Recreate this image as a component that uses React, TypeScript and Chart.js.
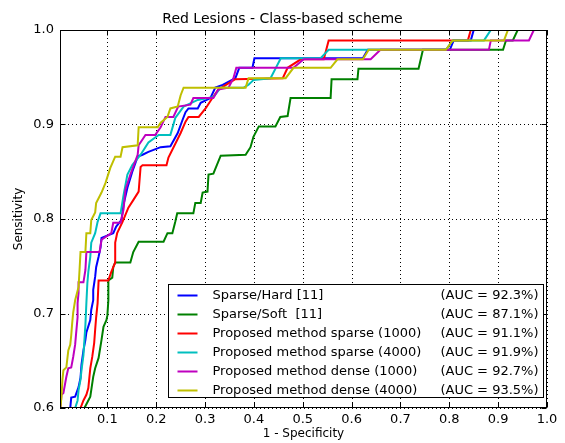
import React, { useEffect, useRef } from "react";
import { Chart, registerables } from "chart.js";

Chart.register(...registerables);

// ---------- data ----------
const seriesNames = [
  "Sparse/Hard [11]",
  "Sparse/Soft  [11]",
  "Proposed method sparse (1000)",
  "Proposed method sparse (4000)",
  "Proposed method dense (1000)",
  "Proposed method dense (4000)",
];
const aucLabels = [
  "(AUC = 92.3%)",
  "(AUC = 87.1%)",
  "(AUC = 91.1%)",
  "(AUC = 91.9%)",
  "(AUC = 92.7%)",
  "(AUC = 93.5%)",
];
const seriesColors = ["#0000ff", "#008000", "#ff0000", "#00bfbf", "#bf00bf", "#bfbf00"];

const xTicks = [0.1, 0.2, 0.3, 0.4, 0.5, 0.6, 0.7, 0.8, 0.9, 1.0];
const yTicks = [0.6, 0.7, 0.8, 0.9, 1.0];

const hardFpr = [0.024, 0.026, 0.034, 0.041, 0.045, 0.047, 0.051, 0.055, 0.057, 0.065, 0.067, 0.071, 0.071, 0.075, 0.077, 0.082, 0.086, 0.088, 0.112, 0.118, 0.129, 0.133, 0.141, 0.151, 0.162, 0.172, 0.184, 0.209, 0.229, 0.244, 0.254, 0.26, 0.266, 0.285, 0.291, 0.311, 0.321, 0.336, 0.362, 0.37, 0.397, 0.401, 0.623, 0.633, 0.801, 0.809, 0.844, 0.85, 1.0];
const hardTpr = [0.6, 0.611, 0.612, 0.622, 0.632, 0.646, 0.661, 0.672, 0.68, 0.693, 0.704, 0.714, 0.725, 0.739, 0.749, 0.76, 0.77, 0.78, 0.785, 0.792, 0.799, 0.815, 0.833, 0.85, 0.866, 0.868, 0.871, 0.876, 0.877, 0.891, 0.905, 0.913, 0.917, 0.917, 0.923, 0.928, 0.939, 0.942, 0.949, 0.96, 0.96, 0.97, 0.97, 0.979, 0.979, 0.989, 0.989, 1.0, 1.0];

const softFpr = [0.053, 0.065, 0.071, 0.075, 0.082, 0.088, 0.092, 0.098, 0.1, 0.102, 0.102, 0.11, 0.112, 0.116, 0.147, 0.153, 0.164, 0.215, 0.223, 0.233, 0.239, 0.243, 0.276, 0.28, 0.291, 0.295, 0.305, 0.307, 0.317, 0.332, 0.383, 0.393, 0.399, 0.41, 0.444, 0.454, 0.469, 0.475, 0.557, 0.559, 0.612, 0.614, 0.737, 0.746, 0.91, 0.916, 0.93, 0.94, 1.0];
const softTpr = [0.6, 0.612, 0.633, 0.642, 0.653, 0.672, 0.686, 0.693, 0.698, 0.714, 0.735, 0.738, 0.749, 0.754, 0.754, 0.765, 0.776, 0.776, 0.785, 0.785, 0.797, 0.806, 0.806, 0.817, 0.817, 0.828, 0.829, 0.847, 0.848, 0.867, 0.868, 0.876, 0.887, 0.898, 0.898, 0.908, 0.909, 0.928, 0.928, 0.948, 0.948, 0.959, 0.959, 0.979, 0.979, 0.989, 0.989, 1.0, 1.0];

const sparse1000Fpr = [0.045, 0.051, 0.057, 0.061, 0.065, 0.069, 0.073, 0.075, 0.077, 0.08, 0.082, 0.102, 0.108, 0.116, 0.116, 0.12, 0.131, 0.143, 0.153, 0.164, 0.168, 0.172, 0.221, 0.225, 0.25, 0.26, 0.266, 0.287, 0.301, 0.315, 0.327, 0.362, 0.459, 0.469, 0.496, 0.543, 0.553, 0.838, 0.844, 1.0];
const sparse1000Tpr = [0.6, 0.608, 0.614, 0.621, 0.642, 0.654, 0.669, 0.683, 0.696, 0.711, 0.735, 0.735, 0.744, 0.754, 0.775, 0.785, 0.797, 0.812, 0.82, 0.829, 0.855, 0.857, 0.857, 0.865, 0.891, 0.903, 0.908, 0.908, 0.917, 0.928, 0.937, 0.948, 0.949, 0.96, 0.969, 0.969, 0.989, 0.989, 1.0, 1.0];

const sparse4000Fpr = [0.034, 0.039, 0.041, 0.045, 0.047, 0.051, 0.053, 0.055, 0.057, 0.059, 0.061, 0.065, 0.067, 0.075, 0.08, 0.086, 0.127, 0.133, 0.141, 0.151, 0.168, 0.184, 0.205, 0.229, 0.239, 0.256, 0.285, 0.317, 0.332, 0.379, 0.389, 0.399, 0.434, 0.455, 0.536, 0.553, 0.793, 0.807, 0.871, 0.885, 1.0];
const sparse4000Tpr = [0.6, 0.608, 0.619, 0.63, 0.64, 0.656, 0.672, 0.688, 0.711, 0.732, 0.744, 0.76, 0.775, 0.785, 0.797, 0.806, 0.806, 0.825, 0.847, 0.857, 0.868, 0.881, 0.889, 0.889, 0.907, 0.919, 0.926, 0.929, 0.939, 0.939, 0.942, 0.947, 0.949, 0.97, 0.97, 0.979, 0.979, 0.989, 0.989, 1.0, 1.0];

const dense1000Fpr = [0.004, 0.006, 0.01, 0.016, 0.02, 0.026, 0.03, 0.034, 0.036, 0.039, 0.039, 0.041, 0.041, 0.051, 0.055, 0.057, 0.084, 0.088, 0.108, 0.112, 0.127, 0.133, 0.137, 0.147, 0.162, 0.164, 0.178, 0.198, 0.209, 0.219, 0.235, 0.245, 0.27, 0.276, 0.317, 0.327, 0.348, 0.358, 0.364, 0.481, 0.502, 0.639, 0.659, 0.881, 0.885, 0.963, 0.973, 1.0];
const dense1000Tpr = [0.6, 0.614, 0.616, 0.633, 0.642, 0.643, 0.654, 0.667, 0.679, 0.696, 0.711, 0.722, 0.733, 0.733, 0.746, 0.765, 0.765, 0.778, 0.785, 0.796, 0.796, 0.81, 0.831, 0.847, 0.868, 0.878, 0.889, 0.889, 0.897, 0.908, 0.908, 0.919, 0.921, 0.928, 0.928, 0.937, 0.939, 0.949, 0.96, 0.96, 0.969, 0.969, 0.979, 0.979, 0.989, 0.989, 1.0, 1.0];

const dense4000Fpr = [0.004, 0.006, 0.008, 0.01, 0.016, 0.02, 0.024, 0.026, 0.028, 0.03, 0.034, 0.041, 0.043, 0.045, 0.055, 0.057, 0.065, 0.067, 0.075, 0.077, 0.088, 0.096, 0.106, 0.116, 0.127, 0.131, 0.162, 0.164, 0.203, 0.209, 0.223, 0.229, 0.244, 0.25, 0.256, 0.383, 0.389, 0.465, 0.481, 0.557, 0.571, 0.623, 0.635, 0.793, 0.807, 0.912, 0.92, 1.0];
const dense4000Tpr = [0.6, 0.612, 0.63, 0.64, 0.643, 0.661, 0.667, 0.677, 0.69, 0.701, 0.714, 0.728, 0.746, 0.765, 0.765, 0.785, 0.785, 0.799, 0.807, 0.817, 0.828, 0.838, 0.854, 0.866, 0.866, 0.876, 0.878, 0.897, 0.897, 0.902, 0.908, 0.917, 0.919, 0.931, 0.939, 0.939, 0.949, 0.949, 0.96, 0.96, 0.969, 0.969, 0.979, 0.979, 0.989, 0.989, 1.0, 1.0];

const seriesFpr = [hardFpr, softFpr, sparse1000Fpr, sparse4000Fpr, dense1000Fpr, dense4000Fpr];
const seriesTpr = [hardTpr, softTpr, sparse1000Tpr, sparse4000Tpr, dense1000Tpr, dense4000Tpr];

const FONT = "'DejaVu Sans', 'Liberation Sans', sans-serif";

const decorPlugin = {
  id: "decor",
  beforeDatasetsDraw(chart: any) {
    const { ctx, chartArea: ca, scales } = chart;
    ctx.save();
    ctx.strokeStyle = "#000";
    ctx.lineWidth = 1;
    ctx.setLineDash([1, 3]);
    for (const v of xTicks) {
      const px = Math.round(scales.x.getPixelForValue(v)) + 0.5;
      ctx.beginPath();
      ctx.moveTo(px, ca.top);
      ctx.lineTo(px, ca.bottom);
      ctx.stroke();
    }
    for (const v of yTicks) {
      const py = Math.round(scales.y.getPixelForValue(v)) + 0.5;
      ctx.beginPath();
      ctx.moveTo(ca.left, py);
      ctx.lineTo(ca.right, py);
      ctx.stroke();
    }
    ctx.restore();
  },
  afterDatasetsDraw(chart: any) {
    const { ctx, chartArea: ca, scales, width } = chart;
    ctx.save();
    // frame
    ctx.strokeStyle = "#000";
    ctx.lineWidth = 1;
    ctx.setLineDash([]);
    const L = Math.round(ca.left) + 0.5;
    const R = Math.round(ca.right) - 0.5;
    const T = Math.round(ca.top) + 0.5;
    const B = Math.round(ca.bottom) - 0.5;
    ctx.strokeRect(L, T, R - L, B - T);
    // inward ticks
    const tl = 5;
    for (const v of xTicks) {
      const px = Math.round(scales.x.getPixelForValue(v)) + 0.5;
      ctx.beginPath();
      ctx.moveTo(px, B);
      ctx.lineTo(px, B - tl);
      ctx.moveTo(px, T);
      ctx.lineTo(px, T + tl);
      ctx.stroke();
    }
    for (const v of yTicks) {
      const py = Math.round(scales.y.getPixelForValue(v)) + 0.5;
      ctx.beginPath();
      ctx.moveTo(L, py);
      ctx.lineTo(L + tl, py);
      ctx.moveTo(R, py);
      ctx.lineTo(R - tl, py);
      ctx.stroke();
    }
    // title (centred on the figure, as in the reference)
    ctx.fillStyle = "#000";
    ctx.font = `14px ${FONT}`;
    ctx.textAlign = "center";
    ctx.textBaseline = "alphabetic";
    ctx.fillText("Red Lesions - Class-based scheme", width / 2, ca.top - 7);
    // legend
    const lw = 375;
    const lh = 113;
    const lx = Math.round(ca.right - 4 - lw) + 0.5;
    const ly = Math.round(ca.bottom - 11 - lh) + 0.5;
    ctx.fillStyle = "#fff";
    ctx.fillRect(lx, ly, lw, lh);
    ctx.strokeStyle = "#000";
    ctx.lineWidth = 1;
    ctx.strokeRect(lx, ly, lw, lh);
    ctx.font = `13px ${FONT}`;
    ctx.textBaseline = "middle";
    chart.data.datasets.forEach((ds: any, i: number) => {
      const y = ly + 11 + i * 19;
      ctx.strokeStyle = ds.borderColor;
      ctx.lineWidth = 2;
      ctx.beginPath();
      ctx.moveTo(lx + 9, y);
      ctx.lineTo(lx + 29, y);
      ctx.stroke();
      ctx.fillStyle = "#000";
      ctx.textAlign = "left";
      ctx.fillText(ds.label, lx + 44, y);
      ctx.textAlign = "right";
      ctx.fillText(aucLabels[i], lx + 370, y);
    });
    ctx.restore();
  },
};

export default function App() {
  const canvasRef = useRef<HTMLCanvasElement | null>(null);

  useEffect(() => {
    const canvas = canvasRef.current;
    if (!canvas) return;
    const datasets = seriesNames.map((name, i) => ({
      label: name,
      data: seriesFpr[i].map((x, k) => ({ x, y: seriesTpr[i][k] })),
      borderColor: seriesColors[i],
      backgroundColor: seriesColors[i],
      borderWidth: 2,
      pointRadius: 0,
      tension: 0,
      fill: false,
      order: seriesNames.length - i,
    }));
    const chart = new Chart(canvas, {
      type: "line",
      data: { datasets },
      options: {
        animation: false,
        responsive: false,
        devicePixelRatio: 1,
        parsing: false,
        layout: { padding: { left: 0, right: 18, top: 30, bottom: 0 } },
        plugins: {
          legend: { display: false },
          title: { display: false },
          tooltip: { enabled: false },
        },
        scales: {
          x: {
            type: "linear",
            min: 0.003,
            max: 1.0,
            grid: { display: false, drawTicks: false },
            border: { display: false },
            ticks: {
              stepSize: 0.1,
              includeBounds: false,
              autoSkip: false,
              maxRotation: 0,
              padding: 4,
              color: "#000",
              font: { family: FONT, size: 13 },
              callback: (v: any) => Number(v).toFixed(1),
            },
            title: {
              display: true,
              text: "1 - Specificity",
              color: "#000",
              font: { family: FONT, size: 12 },
              padding: { top: 0, bottom: 2 },
            },
            afterFit: (s: any) => {
              s.height = 35;
            },
          },
          y: {
            type: "linear",
            min: 0.6,
            max: 1.0,
            grid: { display: false, drawTicks: false },
            border: { display: false },
            ticks: {
              stepSize: 0.1,
              autoSkip: false,
              padding: 6,
              color: "#000",
              font: { family: FONT, size: 13 },
              callback: (v: any) => Number(v).toFixed(1),
            },
            title: {
              display: true,
              text: "Sensitivity",
              color: "#000",
              font: { family: FONT, size: 12 },
              padding: { top: 12, bottom: 0 },
            },
            afterFit: (s: any) => {
              s.width = 60;
            },
          },
        },
      } as any,
      plugins: [decorPlugin],
    });
    return () => chart.destroy();
  }, []);

  return (
    <div style={{ position: "absolute", left: 0, top: 0, width: 565, height: 443, background: "#fff" }}>
      <canvas ref={canvasRef} width={565} height={443} style={{ display: "block" }} />
    </div>
  );
}
